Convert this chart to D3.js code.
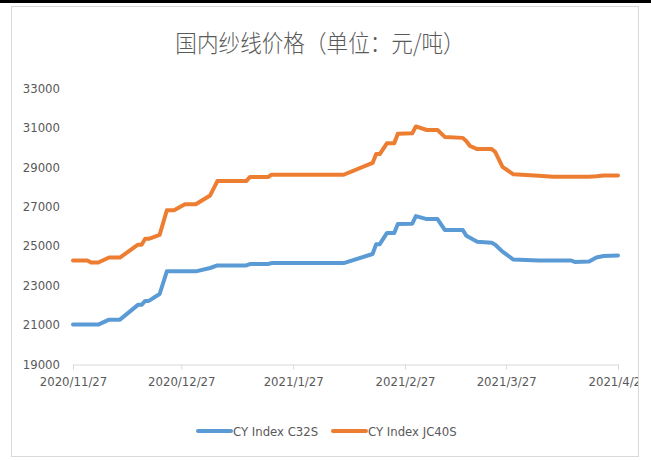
<!DOCTYPE html>
<html>
<head>
<meta charset="utf-8">
<script src="https://cdn.jsdelivr.net/npm/d3@7"></script>
<style>
    body { margin: 0; background: #fff; }
    #chart { width: 651px; height: 460px; }
    .tick-label, .legend-label { font-family: "DejaVu Sans Condensed", "DejaVu Sans", sans-serif; font-stretch: condensed; font-size: 13px; fill: #595959; }
    .title { font-family: "Noto Sans CJK SC", sans-serif; font-size: 24px; font-weight: 300; fill: #595959; }
</style>
</head>
<body>
<div id="chart"></div>
<script>
    // data
    const dates = ["2020-11-27","2020-12-01","2020-12-02","2020-12-04","2020-12-07","2020-12-10","2020-12-15","2020-12-16",
        "2020-12-17","2020-12-18","2020-12-21","2020-12-23","2020-12-25","2020-12-28","2020-12-31","2021-01-04",
        "2021-01-06","2021-01-14","2021-01-15","2021-01-20","2021-01-21","2021-02-10","2021-02-18","2021-02-19",
        "2021-02-20","2021-02-22","2021-02-24","2021-02-25","2021-03-01","2021-03-02","2021-03-05","2021-03-08",
        "2021-03-10","2021-03-15","2021-03-16","2021-03-17","2021-03-19","2021-03-23","2021-03-24","2021-03-26",
        "2021-03-29","2021-04-05","2021-04-09","2021-04-14","2021-04-15","2021-04-19","2021-04-21","2021-04-23",
        "2021-04-27"];
    const c32s = [21000,21000,21000,21000,21250,21250,22000,22000,
        22200,22200,22550,23700,23700,23700,23700,23870,
        24000,24000,24070,24070,24120,24120,24580,25080,
        25080,25650,25650,26100,26120,26500,26350,26350,
        25800,25800,25500,25400,25200,25150,25050,24700,
        24300,24250,24250,24250,24180,24200,24400,24480,
        24500];
    const jc40s = [24250,24250,24150,24150,24400,24400,25050,25050,
        25350,25350,25550,26800,26800,27100,27100,27550,
        28280,28280,28480,28480,28600,28600,29200,29650,
        29650,30200,30200,30680,30700,31050,30870,30870,
        30520,30470,30300,30060,29900,29900,29750,29000,
        28620,28550,28500,28500,28500,28500,28520,28560,
        28560];
    const seriesNames = ["CY Index C32S", "CY Index JC40S"];
    const seriesColors = ["#5b9bd5", "#ed7d31"];
    const yTicks = [19000, 21000, 23000, 25000, 27000, 29000, 31000, 33000];
    const xTicks = ["2020-11-27","2020-12-27","2021-01-27","2021-02-27","2021-03-27","2021-04-27"];

    const width = 651, height = 460;
    const parse = d3.timeParse("%Y-%m-%d");
    const fmt = d3.timeFormat("%Y/%-m/%-d");

    let svg = d3.select("#chart").append("svg")
        .attr("width", width)
        .attr("height", height);

    // chart box clips the last date label, like the original
    svg.append("clipPath").attr("id", "box-clip")
        .append("rect")
        .attr("x", 0).attr("y", 0)
        .attr("width", 638).attr("height", height);

    svg.append("rect")
        .attr("x", 0).attr("y", 0)
        .attr("width", width).attr("height", 3)
        .attr("fill", "#000");

    svg.append("rect")
        .attr("x", 11.5).attr("y", 6.5)
        .attr("width", 627).attr("height", 450)
        .attr("fill", "#fff")
        .attr("stroke", "#d9d9d9");

    // title is a bit narrow in the original, squeeze it horizontally
    svg.append("text")
        .attr("class", "title")
        .attr("transform", "translate(320,52) scale(0.9,1)")
        .attr("text-anchor", "middle")
        .text("国内纱线价格（单位：元/吨）");

    let x = d3.scaleTime()
        .domain([parse("2020-11-27"), parse("2021-04-27")])
        .range([73, 618]);
    let y = d3.scaleLinear()
        .domain([19000, 33000])
        .range([364, 88]);

    let xAxisWrap = svg.append("g").attr("clip-path", "url(#box-clip)");
    let xAxis = xAxisWrap.append("g")
        .attr("transform", "translate(0,364.5)")
        .call(d3.axisBottom(x).tickValues(xTicks.map(parse)).tickFormat(fmt).tickSize(5).tickPadding(7));
    xAxis.select(".domain").attr("stroke", "#d9d9d9");
    xAxis.selectAll(".tick line").attr("stroke", "#d9d9d9");
    xAxis.selectAll(".tick text").attr("class", "tick-label").attr("fill", null);

    let yAxis = svg.append("g")
        .attr("transform", "translate(60,0)")
        .call(d3.axisLeft(y).tickValues(yTicks).tickFormat(d3.format("d")).tickSize(0).tickPadding(0));
    yAxis.select(".domain").remove();
    yAxis.selectAll(".tick text").attr("class", "tick-label").attr("fill", null);

    let line = d3.line()
        .x((d, i) => x(parse(dates[i])))
        .y(d => y(d));

    [c32s, jc40s].forEach((vals, i) => {
        svg.append("path")
            .datum(vals)
            .attr("d", line)
            .attr("fill", "none")
            .attr("stroke", seriesColors[i])
            .attr("stroke-width", 4)
            .attr("stroke-linejoin", "round")
            .attr("stroke-linecap", "round");
    });

    // legend
    const legendX = [198, 333];
    seriesNames.forEach((name, i) => {
        let g = svg.append("g").attr("transform", `translate(${legendX[i]},431)`);
        g.append("line")
            .attr("x1", 0).attr("x2", 33)
            .attr("stroke", seriesColors[i])
            .attr("stroke-width", 4)
            .attr("stroke-linecap", "round");
        g.append("text")
            .attr("class", "legend-label")
            .attr("x", 35).attr("y", 0)
            .attr("dy", "0.35em")
            .text(name);
    });
</script>
</body>
</html>
